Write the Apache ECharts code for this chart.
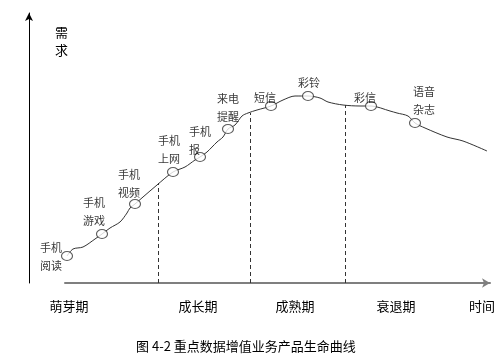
<!DOCTYPE html>
<html>
<head>
<meta charset="utf-8">
<title>产品生命曲线</title>
<script src="https://cdn.jsdelivr.net/npm/echarts@6/dist/echarts.min.js"></script>
<style>
  html, body { margin: 0; padding: 0; background: #fff; }
  #chart { width: 501px; height: 354px; }
</style>
</head>
<body>
<div id="chart"></div>
<script>
// 曲线走势（时间, 需求），单位随意
var curveTime   = [38, 44, 54, 66, 73, 81, 91, 98, 101, 106, 114, 128, 144, 156, 166, 171, 178, 188, 194, 199, 206, 213, 219, 228, 242, 254, 266, 279, 291, 299, 314, 331, 342, 361, 368, 379, 386, 396, 418, 434, 458];
var curveDemand = [27, 34, 36, 44, 49, 55, 61, 70, 75, 79, 86, 98, 111, 116, 123, 126, 131, 141, 146, 154, 158, 167, 170, 173, 177, 183, 187, 187, 185, 181, 178, 177, 177, 172, 170, 167, 160, 155, 146, 142, 132];

// 业务节点
var products      = ['手机\n阅读', '手机\n游戏', '手机\n视频', '手机\n上网', '手机\n报', '来电\n提醒', '短信', '彩铃', '彩信', '语音\n杂志'];
var productTime   = [38, 73, 106, 144, 171, 199, 242, 279, 342, 386];
var productDemand = [27, 49, 79, 111, 126, 154, 177, 187, 177, 160];
var labelOffsets  = [[-16, 1], [-8, -22], [-6, -20], [-4, -22], [-11, -16], [0, -21], [-6, -8], [1, -13], [-6, -8], [9, -22]];
var labelAlign    = ['center', 'center', 'center', 'center', 'left', 'center', 'center', 'center', 'center', 'center'];

// 阶段分界（时间）及虚线高度
var phaseBounds = [129, 221, 316];
var phaseTops   = [100, 170, 178];

// 横轴文字
var phaseNames = ['萌芽期', '成长期', '成熟期', '衰退期', '时间'];
var phaseAt    = [40, 169, 266, 367, 453];

var FONT = '"Noto Sans CJK SC", "Noto Sans", sans-serif';

var curveData = curveTime.map(function (t, i) { return [t, curveDemand[i]]; });
var productData = products.map(function (p, i) {
  return {
    value: [productTime[i], productDemand[i]],
    label: { offset: labelOffsets[i], align: labelAlign[i] }
  };
});
var boundLines = phaseBounds.map(function (b, i) {
  return [{ coord: [b, 0] }, { coord: [b, phaseTops[i]] }];
});

var chart = echarts.init(document.getElementById('chart'));
chart.setOption({
  animation: false,
  backgroundColor: '#fff',
  textStyle: { fontFamily: FONT },
  title: [
    { text: '需\n求', left: 50, top: 18,
      textStyle: { fontSize: 13, fontWeight: 'normal', color: '#000', lineHeight: 18, fontFamily: FONT } },
    { text: '图 4-2 重点数据增值业务产品生命曲线', left: 131, top: 335,
      textStyle: { fontSize: 13, fontWeight: 'normal', color: '#000', fontFamily: FONT } }
  ],
  grid: [
    { left: 29, right: 11, top: 13, bottom: 71 },
    { left: 65, right: 11, top: 13, bottom: 71 }
  ],
  xAxis: [
    { gridIndex: 0, type: 'value', min: 0, max: 461, show: false },
    { gridIndex: 1, type: 'value', min: 36, max: 461,
      axisLine: { show: true, symbol: ['none', 'arrow'], symbolSize: [7, 8],
        lineStyle: { color: '#7f7f7f', width: 2 } },
      axisTick: { show: false },
      splitLine: { show: false },
      axisLabel: {
        customValues: phaseAt,
        margin: 17,
        fontSize: 13,
        color: '#000',
        fontFamily: FONT,
        formatter: function (v) {
          var i = phaseAt.indexOf(v);
          return i >= 0 ? phaseNames[i] : '';
        }
      }
    }
  ],
  yAxis: [
    { gridIndex: 0, type: 'value', min: 0, max: 270,
      axisLine: { show: true, symbol: ['none', 'arrow'], symbolSize: [6, 8],
        lineStyle: { color: '#000', width: 1 } },
      axisTick: { show: false }, axisLabel: { show: false }, splitLine: { show: false } },
    { gridIndex: 1, type: 'value', min: 0, max: 270, show: false }
  ],
  series: [
    {
      type: 'line',
      xAxisIndex: 0, yAxisIndex: 0,
      data: curveData,
      smooth: 0.3,
      showSymbol: false,
      lineStyle: { color: '#333', width: 1 },
      markLine: {
        silent: true,
        symbol: 'none',
        label: { show: false },
        lineStyle: { color: '#333', width: 1, type: [4, 3] },
        data: boundLines
      },
      z: 2
    },
    {
      type: 'scatter',
      xAxisIndex: 0, yAxisIndex: 0,
      data: productData,
      symbol: 'circle',
      symbolSize: [11, 9],
      itemStyle: { color: '#fff', borderColor: '#333', borderWidth: 1 },
      label: {
        show: true,
        position: 'inside',
        fontSize: 11,
        lineHeight: 18,
        color: '#000',
        fontFamily: FONT,
        formatter: function (p) { return products[p.dataIndex]; }
      },
      z: 3
    }
  ]
});
</script>
</body>
</html>
